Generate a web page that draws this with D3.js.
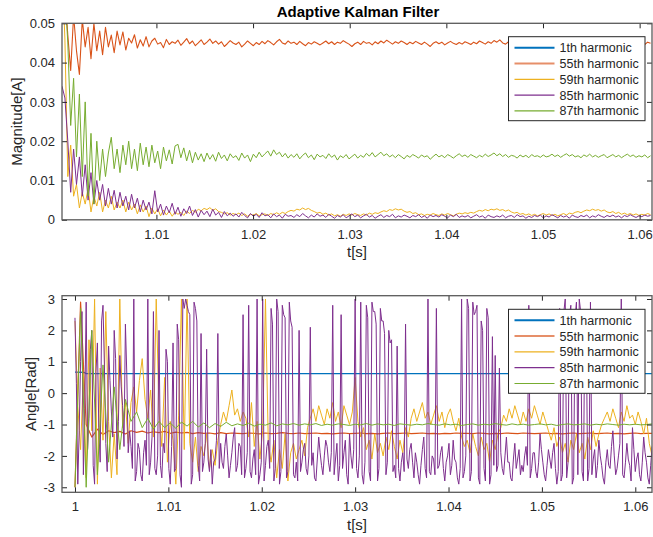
<!DOCTYPE html>
<html><head><meta charset="utf-8">
<script src="https://cdn.jsdelivr.net/npm/d3@7"></script>
<style>html,body{margin:0;padding:0;background:#fff;}svg{display:block;}</style>
</head><body>
<svg id="c" width="653" height="537"></svg>
<script>
// ---------------- DATA ----------------
const seriesNames = ["1th harmonic","55th harmonic","59th harmonic","85th harmonic","87th harmonic"];
const seriesColors = ["#0072BD","#D95319","#EDB120","#7E2F8E","#77AC30"];

// Magnitude panel: samples start at magT0, spacing magDt (s)
const magT0 = 1.00023, magDt = 0.0003;
const mag55 = [
0.062,0.058,0.047,0.038,0.052,0.043,0.037,0.051,0.044,0.049,
0.041,0.050,0.043,0.048,0.042,0.049,0.044,0.047,0.0425,0.048,
0.0445,0.0478,0.0432,0.0462,0.0450,0.0471,0.0437,0.0458,0.0442,0.0466,
0.0440,0.0455,0.0462,0.0447,0.0451,0.0438,0.0459,0.0446,0.0453,0.0449,
0.0457,0.0444,0.0452,0.0461,0.0448,0.0455,0.0443,0.0450,0.0458,0.0446,
0.0452,0.0460,0.0449,0.0455,0.0447,0.0453,0.0441,0.0448,0.0456,0.0450,
0.0446,0.0452,0.0440,0.0447,0.0455,0.0449,0.0443,0.0451,0.0446,0.0454,
0.0448,0.0456,0.0451,0.0445,0.0453,0.0459,0.0450,0.0447,0.0455,0.0449,
0.0452,0.0446,0.0454,0.0448,0.0443,0.0451,0.0447,0.0453,0.0449,0.0445,
0.0450,0.0455,0.0448,0.0453,0.0446,0.0452,0.0449,0.0456,0.0451,0.0447,
0.0441,0.0448,0.0452,0.0446,0.0454,0.0449,0.0451,0.0445,0.0453,0.0448,
0.0455,0.0450,0.0457,0.0452,0.0447,0.0453,0.0449,0.0455,0.0451,0.0446,
0.0452,0.0448,0.0454,0.0450,0.0446,0.0452,0.0447,0.0441,0.0449,0.0453,
0.0448,0.0452,0.0445,0.0450,0.0454,0.0449,0.0446,0.0451,0.0447,0.0453,
0.0450,0.0446,0.0452,0.0448,0.0455,0.0451,0.0447,0.0453,0.0449,0.0456,
0.0452,0.0458,0.0450,0.0447,0.0453,0.0449,0.0445,0.0451,0.0448,0.0454,
0.0450,0.0446,0.0452,0.0448,0.0454,0.0450,0.0447,0.0452,0.0449,0.0445,
0.0451,0.0448,0.0454,0.0450,0.0446,0.0452,0.0449,0.0453,0.0447,0.0451,
0.0455,0.0449,0.0452,0.0446,0.0451,0.0448,0.0453,0.0450,0.0446,0.0452,
0.0448,0.0454,0.0450,0.0447,0.0452,0.0449,0.0455,0.0451,0.0448,0.0453,
0.0450,0.0446,0.0452,0.0449];
const mag59 = [
0.065,0.046,0.011,0.019,0.006,0.009,0.003,0.007,0.004,0.008,
0.002,0.006,0.0035,0.007,0.002,0.005,0.003,0.006,0.0025,0.0045,
0.003,0.005,0.002,0.0045,0.0025,0.004,0.0015,0.0038,0.002,0.0035,
0.0008,0.003,0.0015,0.0028,0.001,0.0025,0.0012,0.0022,0.0009,0.002,
0.0014,0.0019,0.0011,0.0022,0.0016,0.0024,0.0019,0.0027,0.0023,0.0029,
0.0026,0.0031,0.0024,0.0028,0.0021,0.0019,0.0015,0.0018,0.0012,0.0016,
0.0013,0.0017,0.0011,0.0015,0.0009,0.0014,0.0012,0.0016,0.0010,0.0013,
0.0015,0.0011,0.0016,0.0013,0.0018,0.0014,0.0019,0.0016,0.0021,0.0024,
0.0022,0.0027,0.0025,0.0030,0.0026,0.0029,0.0024,0.0021,0.0017,0.0019,
0.0014,0.0017,0.0012,0.0015,0.0010,0.0013,0.0009,0.0014,0.0011,0.0015,
0.0012,0.0016,0.0013,0.0011,0.0015,0.0012,0.0017,0.0014,0.0018,0.0016,
0.0020,0.0023,0.0021,0.0026,0.0024,0.0028,0.0025,0.0027,0.0022,0.0019,
0.0021,0.0016,0.0018,0.0013,0.0015,0.0011,0.0014,0.0012,0.0016,0.0013,
0.0011,0.0015,0.0012,0.0016,0.0013,0.0010,0.0014,0.0017,0.0015,0.0018,
0.0016,0.0019,0.0017,0.0021,0.0024,0.0022,0.0026,0.0023,0.0027,0.0025,
0.0028,0.0024,0.0026,0.0022,0.0025,0.0020,0.0017,0.0019,0.0014,0.0016,
0.0012,0.0015,0.0011,0.0014,0.0010,0.0013,0.0016,0.0012,0.0015,0.0011,
0.0014,0.0010,0.0013,0.0016,0.0012,0.0017,0.0015,0.0019,0.0021,0.0018,
0.0022,0.0025,0.0023,0.0027,0.0024,0.0026,0.0022,0.0025,0.0020,0.0018,
0.0021,0.0016,0.0019,0.0014,0.0017,0.0013,0.0016,0.0012,0.0015,0.0011,
0.0014,0.0012,0.0016,0.0013];
const mag85 = [
0.034,0.031,0.020,0.007,0.018,0.009,0.016,0.006,0.014,0.005,
0.012,0.004,0.010,0.005,0.009,0.0035,0.008,0.004,0.0075,0.003,
0.007,0.0035,0.006,0.0025,0.0065,0.003,0.0055,0.002,0.005,0.0025,
0.0045,0.0015,0.0074,0.002,0.004,0.0012,0.0035,0.0018,0.0042,0.0014,
0.0032,0.0009,0.0028,0.0016,0.0035,0.0011,0.0026,0.0007,0.0024,0.0013,
0.0022,0.0008,0.0027,0.0012,0.0019,0.0006,0.0021,0.0010,0.0017,0.0009,
0.0015,0.0007,0.0019,0.0011,0.0005,0.0016,0.0009,0.0014,0.0006,0.0018,
0.0010,0.0013,0.0005,0.0015,0.0008,0.0012,0.0004,0.0014,0.0009,0.0011,
0.0006,0.0013,0.0008,0.0016,0.0010,0.0005,0.0012,0.0007,0.0015,0.0009,
0.0012,0.0006,0.0014,0.0009,0.0004,0.0011,0.0007,0.0013,0.0005,0.0010,
0.0015,0.0008,0.0012,0.0005,0.0010,0.0014,0.0007,0.0011,0.0004,0.0009,
0.0013,0.0006,0.0011,0.0008,0.0014,0.0005,0.0010,0.0007,0.0012,0.0009,
0.0005,0.0011,0.0008,0.0013,0.0006,0.0010,0.0004,0.0012,0.0008,0.0011,
0.0007,0.0013,0.0009,0.0005,0.0012,0.0008,0.0014,0.0006,0.0010,0.0007,
0.0011,0.0005,0.0009,0.0013,0.0007,0.0010,0.0004,0.0012,0.0008,0.0006,
0.0010,0.0007,0.0012,0.0005,0.0009,0.0011,0.0006,0.0013,0.0008,0.0010,
0.0004,0.0009,0.0006,0.0011,0.0008,0.0012,0.0005,0.0010,0.0007,0.0013,
0.0009,0.0005,0.0011,0.0007,0.0010,0.0004,0.0012,0.0008,0.0006,0.0011,
0.0008,0.0012,0.0005,0.0010,0.0007,0.0013,0.0009,0.0006,0.0011,0.0008,
0.0012,0.0007,0.0010,0.0005,0.0011,0.0008,0.0013,0.0009,0.0006,0.0010,
0.0008,0.0012,0.0009,0.0011];
const mag87 = [
0.060,0.058,0.045,0.024,0.036,0.016,0.032,0.011,0.030,0.006,
0.022,0.004,0.020,0.010,0.018,0.011,0.017,0.021,0.013,0.018,
0.012,0.019,0.014,0.020,0.013,0.018,0.0125,0.0195,0.014,0.0185,
0.0135,0.019,0.0145,0.0175,0.013,0.0185,0.015,0.0178,0.0142,0.0188,
0.0192,0.0158,0.0183,0.0150,0.0177,0.0145,0.0172,0.0152,0.0168,0.0148,
0.0170,0.0154,0.0166,0.0149,0.0172,0.0156,0.0165,0.0150,0.0168,0.0158,
0.0163,0.0151,0.0170,0.0157,0.0165,0.0148,0.0167,0.0158,0.0172,0.0160,
0.0168,0.0175,0.0162,0.0178,0.0166,0.0172,0.0160,0.0169,0.0157,0.0166,
0.0159,0.0168,0.0155,0.0164,0.0170,0.0158,0.0165,0.0153,0.0167,0.0160,
0.0164,0.0156,0.0168,0.0159,0.0165,0.0152,0.0163,0.0158,0.0166,0.0155,
0.0161,0.0167,0.0157,0.0164,0.0159,0.0169,0.0162,0.0171,0.0160,0.0166,
0.0172,0.0163,0.0168,0.0160,0.0165,0.0158,0.0166,0.0161,0.0155,0.0164,
0.0159,0.0166,0.0162,0.0157,0.0165,0.0160,0.0163,0.0154,0.0161,0.0167,
0.0160,0.0164,0.0158,0.0166,0.0162,0.0157,0.0163,0.0168,0.0161,0.0165,
0.0159,0.0166,0.0162,0.0158,0.0164,0.0160,0.0167,0.0161,0.0165,0.0170,
0.0163,0.0168,0.0161,0.0166,0.0159,0.0164,0.0162,0.0157,0.0165,0.0160,
0.0164,0.0158,0.0166,0.0161,0.0163,0.0159,0.0165,0.0160,0.0162,0.0167,
0.0161,0.0165,0.0159,0.0164,0.0168,0.0162,0.0166,0.0160,0.0163,0.0158,
0.0165,0.0161,0.0167,0.0160,0.0164,0.0159,0.0163,0.0166,0.0158,0.0162,
0.0166,0.0160,0.0164,0.0158,0.0163,0.0167,0.0161,0.0165,0.0159,0.0163,
0.0160,0.0165,0.0158,0.0163];

// Angle panel: samples start at angT0; each series has its own spacing
const angT0 = 1.0, angDt = 0.0003, angDtCoarse = 0.0006, angDtFine = 0.00015;
const ang1T = [1.0, 1.0010, 1.0012, 1.0618];
const ang1 = [0.67, 0.66, 0.62, 0.62];
const ang55 = [
-3.0,2.9,-1.0,-1.4,-1.15,-1.32,-1.2,-1.26,-1.22,-1.3,
-1.2,-1.25,-1.21,-1.27,-1.23,-1.26,-1.22,-1.28,-1.24,-1.27,
-1.25,-1.29,-1.26,-1.28,-1.27,-1.30,-1.26,-1.29,-1.27,-1.28,
-1.29,-1.27,-1.28,-1.30,-1.27,-1.29,-1.28,-1.26,-1.28,-1.29,
-1.27,-1.29,-1.28,-1.27,-1.29,-1.28,-1.30,-1.28,-1.27,-1.29,
-1.28,-1.27,-1.29,-1.28,-1.30,-1.28,-1.27,-1.29,-1.28,-1.27,
-1.29,-1.28,-1.27,-1.29,-1.28,-1.30,-1.28,-1.29,-1.27,-1.28,
-1.28,-1.29,-1.27,-1.28,-1.30,-1.28,-1.29,-1.27,-1.28,-1.29,
-1.27,-1.28,-1.29,-1.28,-1.27,-1.29,-1.28,-1.30,-1.28,-1.27,
-1.29,-1.28,-1.27,-1.29,-1.28,-1.27,-1.29,-1.28,-1.30,-1.28,
-1.27,-1.29,-1.28,-1.28];
const ang59 = [
2.3,-0.4,-1.8,0.6,-2.7,1.7,-1.2,3.0,-2.9,0.8,
-1.5,2.6,-0.9,-2.7,-1.3,-2.6,3.0,-1.1,-0.3,-1.6,
-0.3,0.2,-0.6,0.4,1.1,-0.2,-0.8,0.1,-1.4,3.0,
-0.6,-1.7,0.5,-2.2,-0.9,-1.5,-2.9,-0.7,3.0,-1.8,
3.0,-1.6,-2.2,-1.4,-2.5,-1.7,-2.0,-1.3,-2.4,-1.8,
-2.3,-1.5,-1.0,-0.6,-0.9,-0.4,0.1,-0.7,-0.5,-0.9,
-0.6,-0.8,-1.4,-0.3,-1.7,-0.9,-2.1,-1.2,3.0,-1.6,
-2.2,-1.5,-2.7,-1.8,-2.4,-1.3,-2.8,-1.9,-1.6,-2.1,
-1.8,-1.5,-2.0,-1.1,-0.8,-0.5,-0.9,-0.4,-0.7,-1.0,
-0.5,-0.8,-0.3,-0.9,-0.6,-1.1,-0.4,-0.7,-1.0,-0.6,
0.5,-0.9,-1.4,-1.1,-1.8,-1.5,-2.1,-1.3,-1.9,-1.6,
-2.0,-1.4,-1.8,-1.2,-1.7,-2.1,-1.5,-1.9,-1.1,-1.4,
-0.8,-0.5,-0.9,-0.6,-0.3,-0.8,-0.6,-1.0,-0.7,-0.4,
-0.9,-0.6,-1.1,-0.7,-0.5,-0.9,-1.2,-0.8,-1.4,-1.7,
-1.5,-1.9,-1.3,-1.7,-2.0,-1.4,-1.8,-1.6,-2.2,-1.5,
-1.8,-1.3,-1.1,-0.7,-0.9,-0.5,-0.8,-0.4,-0.7,-1.0,
-0.6,-0.9,-0.5,-0.8,-0.4,-0.7,-1.0,-0.6,-0.9,-1.2,
-1.5,-1.1,-1.7,-1.4,-1.9,-1.6,-2.2,-1.5,-1.8,-1.3,
-1.9,-1.6,-2.1,-1.4,-1.8,-1.2,-1.7,-1.3,-1.0,-0.8,
-0.6,-0.9,-0.5,-0.8,-1.1,-0.6,-0.9,-0.4,-0.8,-0.7,
-1.0,-0.6,-0.9,-1.3,-0.8,-1.6,-2.0];
const ang85 = [
2.4,0.3,-2.9,-1.2,1.0,2.6,-2.6,-0.5,2.9,-1.8,-0.8,1.4,2.0,-2.3,-2.9,0.7,1.6,-1.1,-2.2,2.3,
2.8,0.9,-1.6,-2.5,1.5,0.4,-0.6,-1.4,2.0,1.1,-2.1,-0.9,1.2,0.2,-0.4,-1.7,2.2,0.6,-1.9,-1.2,
-1.7,-2.4,3.0,-2.8,-2.5,-1.6,-1.8,-2.6,-2.8,-1.9,-1.5,-2.3,3.0,-2.6,-2.2,-1.4,2.6,-2.4,-2.6,-2.0,
2.0,-2.3,-2.7,-1.6,-1.9,1.4,1.0,-2.4,-2.9,-1.7,1.6,-2.5,-2.4,2.2,1.7,-2.6,-3.0,3.0,2.7,3.0,
2.8,2.6,2.5,-2.9,-2.6,2.9,2.7,2.3,-2.3,-2.8,1.9,-2.5,-2.2,-1.6,1.4,-2.1,-2.5,-1.8,-2.9,-2.2,
-2.1,-1.5,1.9,-2.4,-1.6,-2.2,-2.4,-1.7,-1.3,-2.0,-2.7,-2.3,-1.9,-1.4,-1.1,-2.5,-2.3,-1.6,-1.7,-2.6,
2.5,-2.7,-2.4,-1.9,2.8,-2.5,-2.7,-2.1,-1.8,-2.6,3.0,-2.9,-2.6,-2.2,3.0,-2.8,-2.3,-1.7,-1.5,-2.4,
2.7,2.2,-2.8,-2.4,3.0,2.6,-2.9,-2.5,2.8,2.5,2.4,-2.7,-2.5,2.9,2.3,2.1,-2.6,-2.7,-2.2,-2.8,
2.0,-2.5,-2.2,-1.8,-1.6,-2.4,-2.6,-2.0,2.1,-2.3,-1.9,-2.7,-2.8,-2.1,-1.4,-1.9,-2.3,-2.6,-2.0,-1.5,
-1.7,-2.2,-2.5,-1.9,2.8,-2.6,-2.1,-1.6,-2.8,-2.3,2.5,-2.4,-1.9,-1.5,-2.6,-2.9,-1.3,-2.0,-2.4,-1.8,
3.0,-2.4,-2.7,-2.0,2.9,-2.6,-2.9,-2.2,2.8,2.4,-2.5,-2.8,2.9,2.6,2.6,2.2,-2.8,-2.4,2.7,2.3,
2.3,1.9,-2.6,-2.2,2.0,1.6,1.7,-2.5,-2.3,-2.7,1.5,-2.4,-2.8,-2.2,-1.9,-2.5,2.2,-2.1,-2.4,-1.8,
-1.6,-2.2,-2.7,-1.9,-2.2,-2.6,-2.9,-2.3,-1.8,-1.4,-2.4,-2.7,3.0,-2.5,-2.6,-2.0,-2.1,-2.6,2.7,-2.4,
-2.3,-1.9,-1.7,-2.4,-2.8,-2.2,-2.0,-1.6,-2.6,-2.3,-1.5,-2.1,-2.2,-2.7,-2.9,-2.4,3.0,-2.7,-2.5,-2.0,
3.0,2.7,-2.8,-2.5,2.9,2.5,2.6,2.8,-2.7,-2.9,2.3,2.0,-2.4,-2.8,2.7,2.4,-2.9,-2.6,1.8,-2.3,
1.2,-2.5,-2.3,0.8,-1.9,-2.4,-2.6,-2.0,-1.4,-2.2,-2.2,-2.7,-2.8,-2.1,-1.6,-2.4,-2.1,-1.8,-2.6,-2.3,
-2.5,-2.0,-1.7,-2.3,2.8,-2.7,-2.4,-1.9,-1.9,-2.5,-2.7,-2.2,-1.3,-1.8,-2.2,-2.6,-2.8,-2.3,-1.8,-2.1,
-2.4,-1.9,-1.6,-2.4,-2.9,-2.5,2.7,-2.8,-2.6,2.6,3.0,-2.7,-2.2,2.5,2.8,-2.9,-2.7,2.4,2.9,-2.6,
3.0,2.6,-2.5,-2.8,2.6,2.2,-2.8,-2.4,2.9,-2.6,-2.1,-1.8,-2.7,-2.3,-1.5,-2.0,-2.3,-2.7,-2.9,-2.2,
-1.8,-2.3,-2.4,-1.7,-1.2,-2.0,-2.6,-2.4,-2.0,-1.6,3.0,-2.6,-2.7,-2.2,-1.6,-2.1,-2.3,-2.8,-1.1,-1.8,
-2.5,-2.1,-1.9,-2.6,-2.8,-2.2,-1.4,-1.9,-2.2,-2.7,-2.9,-2.3,-1.7];
const ang87 = [
-3.0,2.7,-3.0,2.0,-2.6,0.9,-2.2,0.2,-1.8,-0.2,
-0.9,-0.6,-1.1,-0.8,-1.15,-0.9,-1.1,-0.95,-1.12,-0.92,
-1.05,-0.9,-1.08,-0.95,-1.1,-0.97,-1.06,-0.93,-1.04,-0.98,
-1.03,-0.96,-1.05,-0.99,-1.02,-0.95,-1.04,-0.98,-1.01,-0.97,
-1.02,-0.98,-1.01,-0.97,-1.03,-0.99,-1.02,-0.98,-1.00,-1.03,
-0.99,-1.01,-0.97,-1.02,-0.98,-1.01,-0.99,-1.03,-0.98,-1.00,
-1.02,-0.99,-1.01,-0.97,-1.00,-1.02,-0.98,-1.01,-0.99,-1.03,
-1.00,-0.98,-1.02,-0.99,-1.01,-0.97,-1.00,-1.02,-0.98,-1.01,
-0.99,-1.02,-1.00,-0.98,-1.01,-0.99,-1.03,-1.00,-0.98,-1.01,
-1.00,-0.98,-1.02,-0.99,-1.01,-0.98,-1.00,-1.02,-0.99,-1.01,
-0.99,-1.01,-1.00,-0.98];

// Axis ticks
const magXTicks = [1.01,1.02,1.03,1.04,1.05,1.06];
const magYTicks = [0,0.01,0.02,0.03,0.04,0.05];
const angXTicks = [1,1.01,1.02,1.03,1.04,1.05,1.06];
const angYTicks = [-3,-2,-1,0,1,2,3];
const magXDomain = [1.00023, 1.06128], magYDomain = [0, 0.05];
const angXDomain = [0.99861, 1.06179], angYDomain = [-3.16, 3.105];

// ---------------- DRAW ----------------
const FONT = "'Liberation Sans', Arial, Helvetica, sans-serif";
const svg = d3.select("#c");
svg.append("rect").attr("width",653).attr("height",537).attr("fill","#fff");

const toPts = (arr, t0, dt) => arr.map((v,i)=>({t: t0 + i*dt, v}));
const toPtsT = (ts, vs) => vs.map((v,i)=>({t: ts[i], v}));

function panel(cfg){
  const {box, xDom, yDom, xTicks, yTicks, xFmt, yFmt, series, ylabel, legendTop, id} = cfg;
  const x = d3.scaleLinear().domain(xDom).range([box.l, box.r]);
  const y = d3.scaleLinear().domain(yDom).range([box.b, box.t]);
  const g = svg.append("g");
  g.append("clipPath").attr("id","clip"+id).append("rect")
    .attr("x",box.l).attr("y",box.t).attr("width",box.r-box.l).attr("height",box.b-box.t);
  const line = d3.line().x(d=>x(d.t)).y(d=>y(d.v));
  const lg = g.append("g").attr("clip-path","url(#clip"+id+")");
  series.forEach(s=>{
    if(!s.pts) return;
    lg.append("path").datum(s.pts).attr("d",line).attr("fill","none")
      .attr("stroke",s.color).attr("stroke-width",s.w).attr("stroke-linejoin","round");
  });
  const tl = 5;
  const axCol = "#262626";
  const bottom = d3.axisBottom(x).tickValues(xTicks).tickSize(-tl).tickPadding(9.5).tickFormat(xFmt);
  const top = d3.axisTop(x).tickValues(xTicks).tickSize(-tl).tickFormat("");
  const left = d3.axisLeft(y).tickValues(yTicks).tickSize(-tl).tickPadding(7).tickFormat(yFmt);
  const right = d3.axisRight(y).tickValues(yTicks).tickSize(-tl).tickFormat("");
  const styleAx = sel => {
    sel.selectAll(".tick line").attr("stroke",axCol).attr("stroke-width",1);
    sel.selectAll("text").attr("fill",axCol).style("font-family",FONT).style("font-size","13px");
  };
  g.append("g").attr("transform",`translate(0,${box.b})`).call(bottom).call(styleAx);
  g.append("g").attr("transform",`translate(0,${box.t})`).call(top).call(styleAx);
  g.append("g").attr("transform",`translate(${box.l},0)`).call(left).call(styleAx);
  g.append("g").attr("transform",`translate(${box.r},0)`).call(right).call(styleAx);
  g.selectAll(".domain").remove();
  g.append("rect").attr("x",box.l).attr("y",box.t).attr("width",box.r-box.l).attr("height",box.b-box.t)
    .attr("fill","none").attr("stroke","#5a5a5a").attr("stroke-width",1.3);
  g.append("text").attr("x",(box.l+box.r)/2).attr("y",box.b+37.5).attr("text-anchor","middle")
    .style("font-family",FONT).style("font-size","15px").attr("fill",axCol).text("t[s]");
  g.append("text").attr("transform",`translate(${ylabel.x},${(box.t+box.b)/2}) rotate(-90)`)
    .attr("text-anchor","middle").style("font-family",FONT).style("font-size","15px")
    .attr("fill",axCol).text(ylabel.text);
  // legend
  const L = {x:508.5, y:legendTop, w:136.5, h:84};
  const lgd = g.append("g");
  lgd.append("rect").attr("x",L.x).attr("y",L.y).attr("width",L.w).attr("height",L.h)
    .attr("fill","#fff").attr("stroke",axCol).attr("stroke-width",1);
  seriesNames.forEach((nm,i)=>{
    const yy = L.y + 11 + i*15.8;
    lgd.append("line").attr("x1",L.x+6).attr("x2",L.x+46).attr("y1",yy).attr("y2",yy)
      .attr("stroke",seriesColors[i]).attr("stroke-width", i<2 ? 2 : 1.2).attr("stroke-opacity", i===1?0.65:1);
    lgd.append("text").attr("x",L.x+51).attr("y",yy).attr("dy","0.36em")
      .style("font-family",FONT).style("font-size","12.5px").attr("fill",axCol).text(nm);
  });
}

const fmt2 = d => d===0 ? "0" : d3.format(".2f")(d);
const fmtX = d => d===1 ? "1" : d3.format(".2f")(d);

panel({
  id:"m",
  box:{l:62, r:652, t:23.3, b:219.8},
  xDom: magXDomain, yDom: magYDomain, xTicks: magXTicks, yTicks: magYTicks,
  xFmt: fmtX, yFmt: fmt2,
  series:[
    {color:seriesColors[0], w:1.2, pts:null},
    {color:seriesColors[1], w:1.1, pts:toPts(mag55, magT0, magDt)},
    {color:seriesColors[2], w:1, pts:toPts(mag59, magT0, magDt)},
    {color:seriesColors[3], w:1, pts:toPts(mag85, magT0, magDt)},
    {color:seriesColors[4], w:1, pts:toPts(mag87, magT0, magDt)}
  ],
  ylabel:{x:22, text:"Magnitude[A]"},
  legendTop: 36.7
});

panel({
  id:"a",
  box:{l:62, r:652, t:295.7, b:492.3},
  xDom: angXDomain, yDom: angYDomain, xTicks: angXTicks, yTicks: angYTicks,
  xFmt: fmtX, yFmt: d=>String(d),
  series:[
    {color:seriesColors[0], w:1.2, pts:toPtsT(ang1T, ang1)},
    {color:seriesColors[1], w:1.2, pts:toPts(ang55, angT0, angDtCoarse)},
    {color:seriesColors[2], w:1, pts:toPts(ang59, angT0, angDt)},
    {color:seriesColors[3], w:1, pts:toPts(ang85, angT0, angDtFine)},
    {color:seriesColors[4], w:1, pts:toPts(ang87, angT0, angDtCoarse)}
  ],
  ylabel:{x:36, text:"Angle[Rad]"},
  legendTop: 309.3
});

svg.append("text").attr("x",358).attr("y",16.5).attr("text-anchor","middle")
  .style("font-family",FONT).style("font-size","15px").style("font-weight","bold")
  .attr("fill","#000").text("Adaptive Kalman Filter");
</script>
</body></html>
